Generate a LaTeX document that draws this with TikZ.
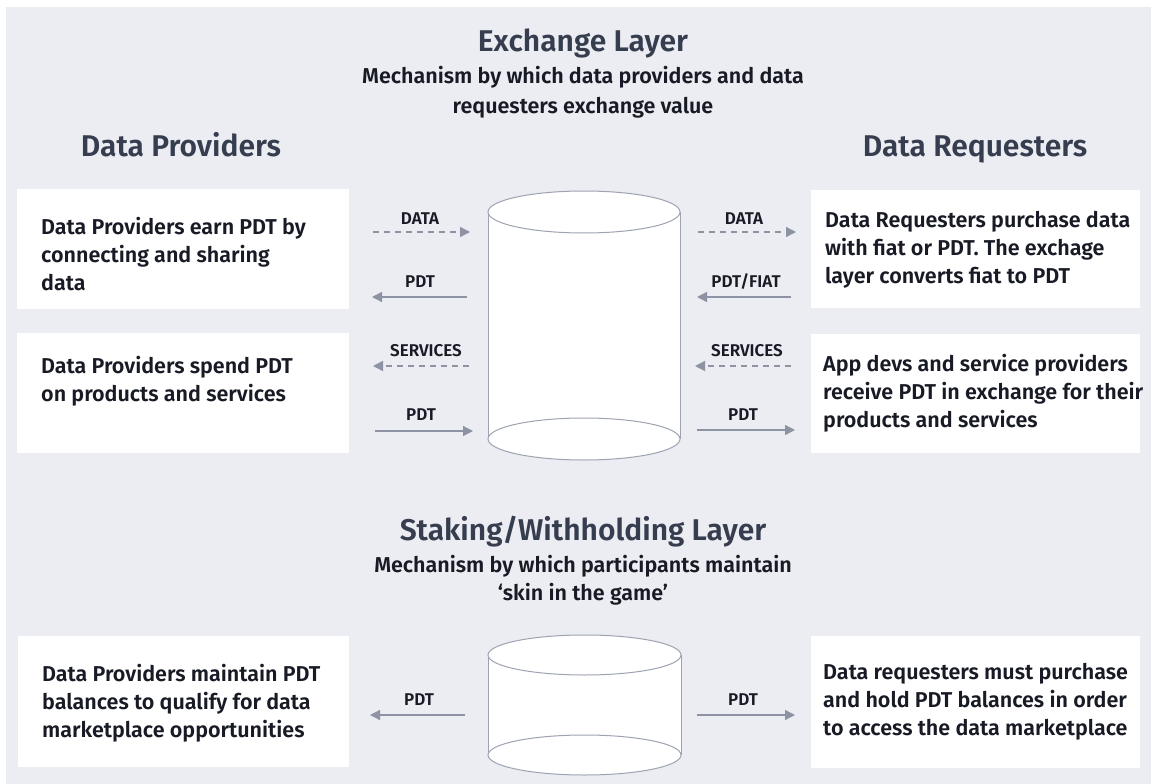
\documentclass[tikz,border=0pt]{standalone}
\usepackage{fontspec}
\setmainfont{Fira Sans SemiBold}
\usetikzlibrary{arrows.meta}

\definecolor{pagebg}{HTML}{ECEDF2}
\definecolor{titlecol}{HTML}{353D4F}
\definecolor{bodycol}{HTML}{181B25}
\definecolor{flowcol}{HTML}{8E93A4}
\definecolor{drumcol}{HTML}{9EA3B2}

\tikzset{
  panel/.style={fill=white, draw=none, inner sep=0pt, anchor=north west},
  bodytext/.style={text=bodycol, align=left, anchor=west, inner sep=0pt,
    font=\fontsize{21.5}{28}\selectfont},
  heading/.style={text=titlecol, inner sep=0pt, anchor=base, font=\fontsize{30}{34}\selectfont},
  subheading/.style={text=bodycol, align=center, inner sep=0pt,
    font=\fontsize{21.5}{30}\selectfont},
  flowlabel/.style={text=bodycol, inner sep=0pt, anchor=base, font=\fontsize{17}{19}\selectfont},
  flow/.style={draw=flowcol, line width=1.4pt,
    -{Triangle[length=10pt, width=10pt, fill=flowcol]}},
  dataflow/.style={flow, dash pattern=on 6pt off 5pt},
  drum/.style={draw=drumcol, line width=1pt, fill=white},
}

\begin{document}
\begin{tikzpicture}[x=1pt, y=-1pt]
\useasboundingbox (0,0) rectangle (1151,784);
\fill[white] (0,0) rectangle (1151,784);
\fill[pagebg] (6,7) rectangle (1151,784);

% ---------- exchange layer headings ----------
\node[heading] (exTitle) at (583,52) {Exchange Layer};
\node[subheading] (exSub) at (583,92) {Mechanism by which data providers and data\\requesters exchange value};
\node[heading] (provHead) at (181,156) {Data Providers};
\node[heading] (reqHead) at (975,156) {Data Requesters};

% ---------- panels ----------
\node[panel, minimum width=332pt, minimum height=120pt] (pA) at (17,189) {};
\node[panel, minimum width=332pt, minimum height=120pt] (pB) at (17,333) {};
\node[panel, minimum width=329pt, minimum height=118pt] (pC) at (811,190) {};
\node[panel, minimum width=329pt, minimum height=119pt] (pD) at (811,334) {};
\node[panel, minimum width=331pt, minimum height=131pt] (pE) at (18,636) {};
\node[panel, minimum width=329pt, minimum height=132pt] (pF) at (811,636) {};

\node[bodytext] (tA) at (41,254) {Data Providers earn PDT by\\connecting and sharing\\data};
\node[bodytext] (tB) at (41,381) {Data Providers spend PDT\\on products and services};
\node[bodytext] (tC) at (825,250) {Data Requesters purchase data\\with fiat or PDT. The exchage\\layer converts fiat to PDT};
\node[bodytext] (tD) at (823,393) {App devs and service providers\\receive PDT in exchange for their\\products and services};
\node[bodytext] (tE) at (42,703) {Data Providers maintain PDT\\balances to qualify for data\\marketplace opportunities};
\node[bodytext] (tF) at (823,702) {Data requesters must purchase\\and hold PDT balances in order\\to access the data marketplace};

% ---------- exchange drum ----------
\fill[white] (488,212) rectangle (680,439);
\draw[drumcol, line width=1pt] (488,212) -- (488,439) (680,212) -- (680,439);
\draw[drum] (584,212) ellipse [x radius=96, y radius=21];
\draw[drum] (584,439) ellipse [x radius=96, y radius=21];

% ---------- exchange flows ----------
\coordinate (a1s) at (373,232); \coordinate (a1e) at (470,232);
\coordinate (a2s) at (467,297); \coordinate (a2e) at (372,297);
\coordinate (a3s) at (469,366); \coordinate (a3e) at (373,366);
\coordinate (a4s) at (375,431); \coordinate (a4e) at (473,431);
\coordinate (b1s) at (698,232); \coordinate (b1e) at (796,232);
\coordinate (b2s) at (791,297); \coordinate (b2e) at (697,297);
\coordinate (b3s) at (791,366); \coordinate (b3e) at (695,366);
\coordinate (b4s) at (697,430); \coordinate (b4e) at (795,430);

\draw[dataflow] (a1s) -- (a1e);
\draw[flow] (a2s) -- (a2e);
\draw[dataflow] (a3s) -- (a3e);
\draw[flow] (a4s) -- (a4e);
\draw[dataflow] (b1s) -- (b1e);
\draw[flow] (b2s) -- (b2e);
\draw[dataflow] (b3s) -- (b3e);
\draw[flow] (b4s) -- (b4e);

\node[flowlabel] (la1) at (420,224) {DATA};
\node[flowlabel] (la2) at (420,287) {PDT};
\node[flowlabel] (la3) at (426,356) {SERVICES};
\node[flowlabel] (la4) at (421,420) {PDT};
\node[flowlabel] (lb1) at (744,224) {DATA};
\node[flowlabel] (lb2) at (746,287) {PDT/FIAT};
\node[flowlabel] (lb3) at (747,356) {SERVICES};
\node[flowlabel] (lb4) at (743,420) {PDT};

% ---------- staking layer ----------
\node[heading] (stTitle) at (583,540) {Staking/Withholding Layer};
\node[subheading, font=\fontsize{21.5}{28}\selectfont] (stSub) at (583,580) {Mechanism by which participants maintain\\‘skin in the game’};

\fill[white] (488,655) rectangle (681,755);
\draw[drumcol, line width=1pt] (488,655) -- (488,755) (681,655) -- (681,755);
\draw[drum] (584.5,655) ellipse [x radius=96.5, y radius=20];
\draw[drum] (584.5,755) ellipse [x radius=96.5, y radius=20];

\coordinate (c1s) at (465,715); \coordinate (c1e) at (370,715);
\coordinate (c2s) at (697,715); \coordinate (c2e) at (795,715);
\draw[flow] (c1s) -- (c1e);
\draw[flow] (c2s) -- (c2e);
\node[flowlabel] (lc1) at (419,705) {PDT};
\node[flowlabel] (lc2) at (743,705) {PDT};

\end{tikzpicture}
\end{document}
